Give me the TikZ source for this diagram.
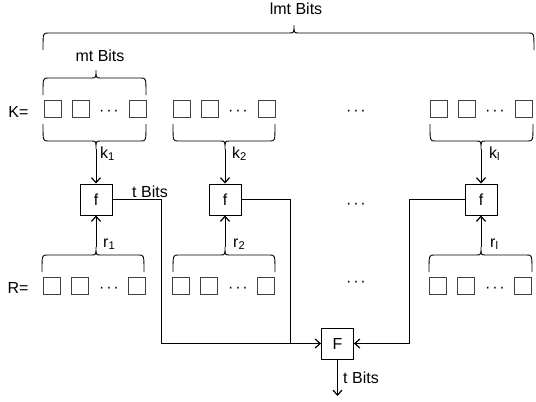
\documentclass[tikz,border=0pt]{standalone}
\usepackage{fontspec}
\setmainfont{Liberation Sans}
\usetikzlibrary{arrows.meta}

\begin{document}
\begin{tikzpicture}
[x=1pt,y=-1pt,
  bitDecorate/.style={shape=rectangle,draw=black!75,line width=0.9pt,minimum size=17pt,inner sep=0pt},%
  funDecorate/.style={shape=rectangle,draw,line width=0.9pt,minimum width=32pt,minimum height=31pt,inner sep=0pt,font=\fontsize{16}{19}\selectfont},%
  textDecorate/.style={anchor=base,inner sep=0pt,font=\fontsize{16}{19}\selectfont},%
  dotsDecorate/.style={anchor=base,inner sep=0pt,font=\fontsize{16}{19}\selectfont},%
  lineDecorate/.style={-,line width=0.9pt},%
  arrowDecorate/.style={-{Straight Barb[length=5pt,width=9pt,line width=1.2pt]},line width=0.9pt}]
\useasboundingbox (0,0) rectangle (536,402);
%% braces with their tips
\foreach \xa/\xb/\xt/\yy/\d/\tipname in {
  43/534/294/33/1/lmtTip, 43/146/96/78/1/mtTip,
  43/146/96/141/-1/kTip1, 173/275/225/141/-1/kTip2, 430/533/481/141/-1/kTip3,
  42/144/96/255/1/rTip1, 173/275/225/255/1/rTip2, 429/532/481/255/1/rTip3}
{
  \draw[lineDecorate] (\xa,{\yy+17*\d}) .. controls (\xa,\yy) .. (\xa+5,\yy)
    -- (\xt-5,\yy) .. controls (\xt,\yy) .. (\xt,{\yy-8*\d})
    .. controls (\xt,\yy) .. (\xt+5,\yy) -- (\xb-5,\yy)
    .. controls (\xb,\yy) .. (\xb,{\yy+17*\d});
  \coordinate (\tipname) at (\xt,{\yy-8*\d});
}
%% key and random bits
\foreach \g/\gx in {1/44, 2/173, 3/430}
{
  \node (K\g a) at (\gx+8.5,109) [bitDecorate] {};
  \node (K\g b) at (\gx+37,109) [bitDecorate] {};
  \node (K\g c) at (\gx+94,109) [bitDecorate] {};
  \node (K\g dots) at (\gx+65,115) [dotsDecorate] {·\kern1.8pt·\kern1.8pt·};
  \node (R\g a) at (\gx+7.5,286) [bitDecorate] {};
  \node (R\g b) at (\gx+36,286) [bitDecorate] {};
  \node (R\g c) at (\gx+92.5,286) [bitDecorate] {};
  \node (R\g dots) at (\gx+65,292) [dotsDecorate] {·\kern1.8pt·\kern1.8pt·};
}
\node (Kmid) at (356,115) [dotsDecorate] {·\kern1.8pt·\kern1.8pt·};
\node (fmid) at (356,208) [dotsDecorate] {·\kern1.8pt·\kern1.8pt·};
\node (Rmid) at (356,286) [dotsDecorate] {·\kern1.8pt·\kern1.8pt·};
%% functions
\node (f1) at (96,199.5) [funDecorate] {f};
\node (f2) at (225,199.5) [funDecorate] {f};
\node (f3) at (481,199.5) [funDecorate] {f};
\node (F) at (337.5,343.5) [funDecorate] {F};
\coordinate (bendA) at (161,343.5);
\coordinate (bendB) at (290,343.5);
\coordinate (bendC) at (409,343.5);
\coordinate (outEnd) at (337.5,396);
%% labels
\node (lmtText) at (296,14) [textDecorate] {lmt Bits};
\node (mtText) at (100,61) [textDecorate] {mt Bits};
\node (KText) at (18.5,117) [textDecorate] {K=};
\node (RText) at (18,293) [textDecorate] {R=};
\node (k1Text) at (100,158) [textDecorate,anchor=base west] {k\textsubscript{1}};
\node (k2Text) at (232,158) [textDecorate,anchor=base west] {k\textsubscript{2}};
\node (k3Text) at (489,158) [textDecorate,anchor=base west] {k\textsubscript{l}};
\node (r1Text) at (103,247) [textDecorate,anchor=base west] {r\textsubscript{1}};
\node (r2Text) at (233,247) [textDecorate,anchor=base west] {r\textsubscript{2}};
\node (r3Text) at (490,247) [textDecorate,anchor=base west] {r\textsubscript{l}};
\node (tText) at (150,197) [textDecorate] {t Bits};
\node (outText) at (343,383) [textDecorate,anchor=base west] {t Bits};
%% connectors
\foreach \i in {1,2,3}
{
  \draw[arrowDecorate] (kTip\i) -- (f\i);
  \draw[arrowDecorate] (rTip\i) -- (f\i);
}
\draw[arrowDecorate] (f1.east) -| (bendA) -- (F.west);
\draw[lineDecorate] (f2.east) -| (bendB);
\draw[arrowDecorate] (f3.west) -| (bendC) -- (F.east);
\draw[arrowDecorate] (F) -- (outEnd);
\end{tikzpicture}
\end{document}
